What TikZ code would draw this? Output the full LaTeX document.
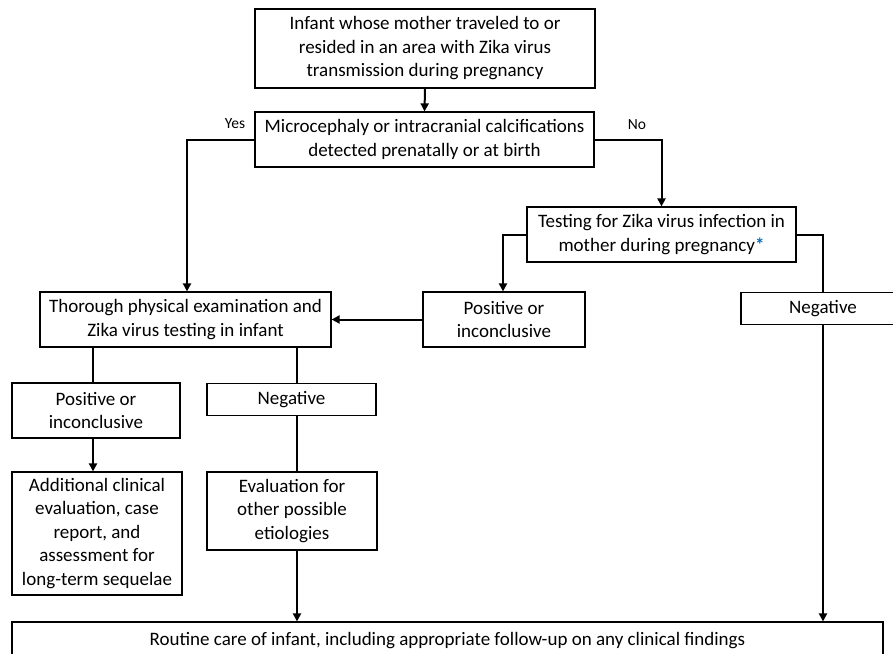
\documentclass[tikz,border=0pt]{standalone}
\usepackage{fontspec}
\setmainfont{Carlito}
\usetikzlibrary{arrows.meta}
\definecolor{starblue}{HTML}{0070C0}
\tikzset{
  box/.style={draw=black, line width=1.2pt, fill=white, inner sep=0pt, align=center,
    font=\fontsize{19}{23.5}\selectfont},
  conn/.style={draw=black, line width=2pt},
  arr/.style={conn, -{Triangle[length=8pt,width=8pt]}},
  lbl/.style={inner sep=0pt, font=\fontsize{15.5}{18}\selectfont}
}
\begin{document}
\begin{tikzpicture}[x=1pt,y=-1pt]
\useasboundingbox (0,0) rectangle (893,653);
\clip (0,0) rectangle (893,653);
\fill[white] (0,0) rectangle (893,653);
% nodes
\node[box, minimum width=340pt, minimum height=79pt] (top) at (425,48.5)
  {Infant whose mother traveled to or\\resided in an area with Zika virus\\transmission during pregnancy};
\node[box, minimum width=339pt, minimum height=55pt] (micro) at (424.5,139.5)
  {Microcephaly or intracranial calcifications\\detected prenatally or at birth};
\node[box, minimum width=269pt, minimum height=55pt] (test) at (661.5,234.5)
  {Testing for Zika virus infection in\\mother during pregnancy\textcolor{starblue}{\textbf{*}}};
\node[box, minimum width=164pt, minimum height=32pt] (negR) at (823,308.5) {Negative};
\node[box, minimum width=162pt, minimum height=55pt] (posM) at (504,319.5)
  {Positive or\\inconclusive};
\node[box, minimum width=291pt, minimum height=55pt] (thor) at (185.5,319.5)
  {Thorough physical examination and\\Zika virus testing in infant};
\node[box, minimum width=168pt, minimum height=55pt] (posL) at (96,410.5)
  {Positive or\\inconclusive};
\node[box, minimum width=169pt, minimum height=32pt] (negL) at (291.5,399.5) {Negative};
\node[box, minimum width=170pt, minimum height=123pt] (add) at (97,533.5)
  {Additional clinical\\evaluation, case\\report, and\\assessment for\\long-term sequelae};
\node[box, minimum width=170pt, minimum height=78pt] (eval) at (292,511)
  {Evaluation for\\other possible\\etiologies};
\node[box, minimum width=871pt, minimum height=37pt] (routine) at (447.5,640.5)
  {Routine care of infant, including appropriate follow-up on any clinical findings};
% labels
\node[lbl] (yes) at (235,124) {Yes};
\node[lbl] (no) at (637,125) {No};
% connectors
\draw[arr] (top.south) -- (micro.north);
\draw[arr] (micro.west) -| ([xshift=1.5pt]thor.north);
\draw[arr] (micro.east) -| (test.north);
\draw[arr] (test.west) -| ([xshift=-1pt]posM.north);
\draw[conn] (test.east) -| (negR.north);
\draw[arr] (posM.west) -- (thor.east);
\draw[conn] ([xshift=-3pt]posL.north |- thor.south) -- ([xshift=-3pt]posL.north);
\draw[conn] ([xshift=5.5pt]negL.north |- thor.south) -- ([xshift=5.5pt]negL.north);
\draw[conn] ([xshift=5.5pt]negL.south) -- ([xshift=5pt]eval.north);
\draw[arr] ([xshift=-3pt]posL.south) -- ([xshift=-3pt]posL.south |- add.north);
\draw[arr] ([xshift=5pt]eval.south) -- ([xshift=5pt]eval.south |- routine.north);
\draw[arr] (negR.south) -- (negR.south |- routine.north);
\end{tikzpicture}
\end{document}
